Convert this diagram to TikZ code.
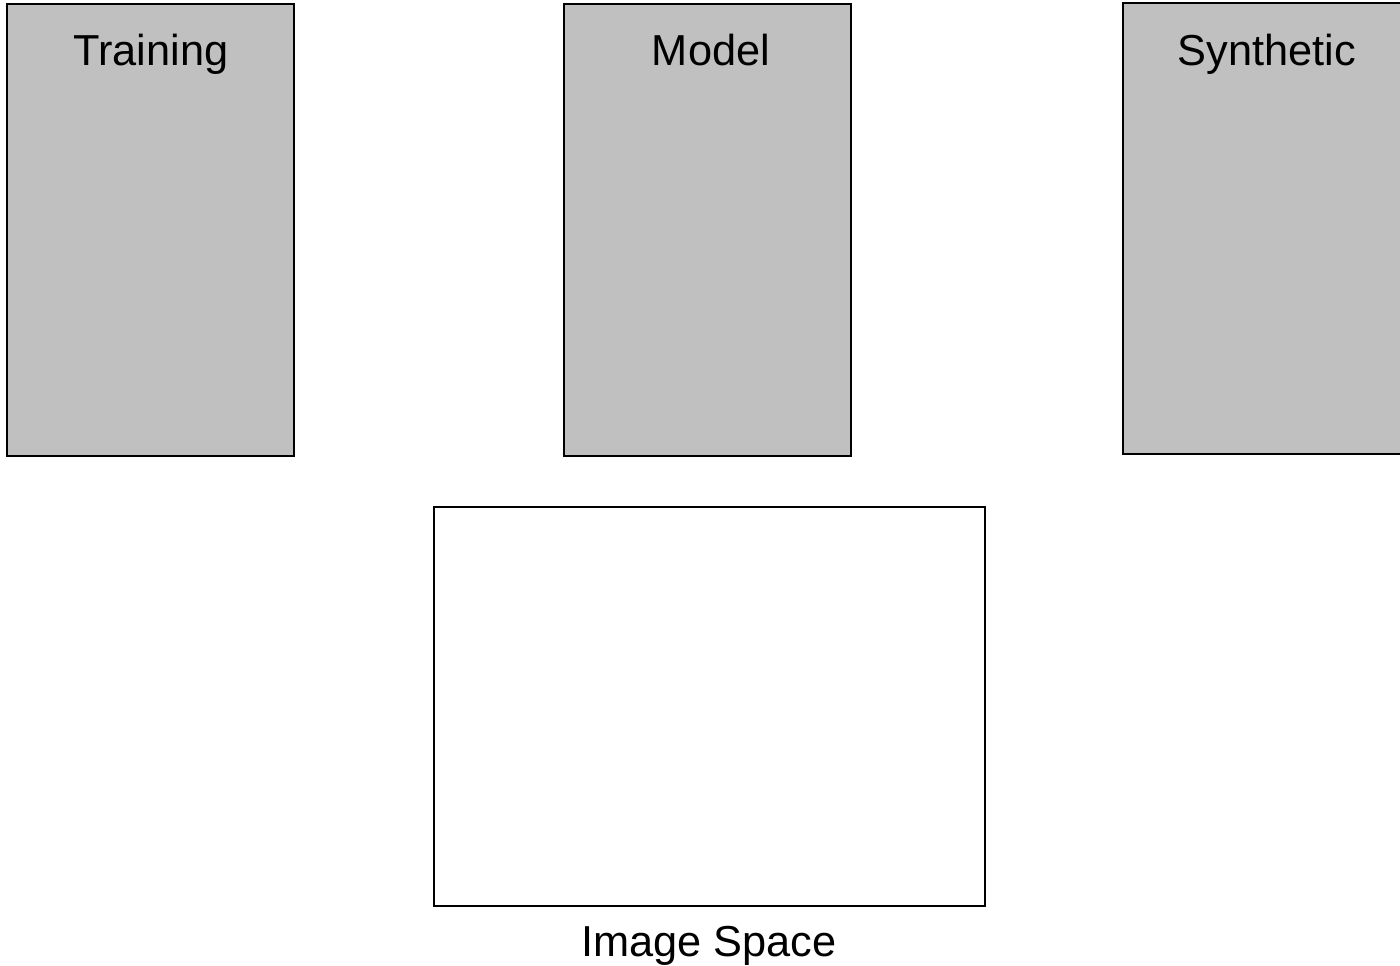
\documentclass[tikz,border=0pt]{standalone}
\usepackage{fontspec}
\setmainfont{Liberation Sans}
\begin{document}
\begin{tikzpicture}[x=0.75pt,y=-0.75pt,
  panel/.style={draw=black,line width=1.4pt,fill={rgb,255:red,192;green,192;blue,192}},
  space/.style={draw=black,line width=1.4pt,fill=white},
  lbl/.style={font=\fontsize{32.5pt}{37pt}\selectfont,anchor=base,inner sep=0pt}]
\useasboundingbox (0,0) rectangle (1400,966);
\clip (0,0) rectangle (1400,966);
\draw[panel] (7,4) rectangle (294,456);
\draw[panel] (564,4) rectangle (851,456);
\draw[panel] (1123,3) rectangle (1412,454);
\draw[space] (434,507) rectangle (985,906);
\node[lbl] (tTraining) at (151,66) {Training};
\node[lbl] (tModel) at (711,66) {Model};
\node[lbl] (tSynthetic) at (1267,66) {Synthetic};
\node[lbl] (tImage) at (709,956) {Image Space};
\end{tikzpicture}
\end{document}
